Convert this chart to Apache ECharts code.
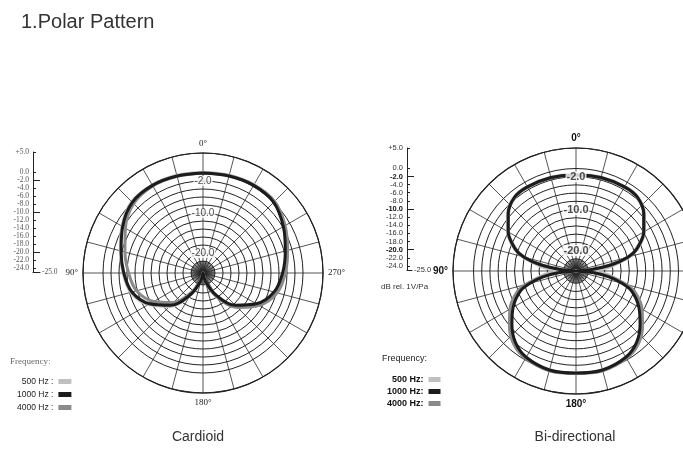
<!DOCTYPE html>
<html><head><meta charset="utf-8">
<script src="https://cdn.jsdelivr.net/npm/echarts@6/dist/echarts.min.js"></script>
<style>html,body{margin:0;padding:0;background:#fff}#c{width:683px;height:470px}</style>
</head><body><div id="c"></div>
<script>
// ---- data ----
const ringValues = [5,0,-2,-4,-6,-8,-10,-12,-14,-16,-18,-20,-22,-24];
const majorMarks = [-2,-10,-20];
const angleLabelValues = [0,90,180,270];
const frequencies = ['500 Hz','1000 Hz','4000 Hz'];

const cardioidAngles = [0,15,30,45,60,75,90,105,120,135,150,165,180,195,210,225,240,255,270,285,300,315,330,345,360];
const cardioid500  = [0.2,0.3,0.4,0.2,-1.6,-3.6,-5.0,-6.3,-9.2,-13.2,-18.6,-23,-25,-22.8,-18.4,-13,-8.9,-5.9,-4.5,-3.2,-1.4,0.3,0.5,0.3,0.2];
const cardioid1000 = [0,0.1,0.3,0,-1.8,-3.8,-5.2,-6.6,-9.6,-13.6,-18.8,-23,-25,-23,-18.8,-13.6,-9.6,-6.6,-5.1,-3.7,-1.8,0,0.3,0.1,0];
const cardioid4000 = [0,0,0.1,-0.5,-2.6,-4.8,-6.4,-7.8,-10.8,-14.6,-19.6,-23.4,-25,-22.6,-18.2,-12.8,-8.8,-5.8,-4.4,-3.1,-1.3,0.3,0.4,0.2,0];

const bidirAngles = [0,15,30,40,50,60,70,75,80,85,90,95,100,105,110,120,130,140,150,165,180,195,210,220,230,240,250,255,260,265,270,275,280,285,290,300,310,320,330,345,360];
const bidir500  = [-1.4,-1.3,-1.2,-1.5,-3.2,-5.7,-9,-11.5,-15,-18,-25,-18,-15.5,-12.8,-10.2,-7,-4.3,-1.9,-0.6,0,-0.1,0,-0.6,-1.9,-4.3,-7,-10.2,-12.8,-15.5,-18,-25,-18,-15,-11.5,-9,-5.7,-3.2,-1.5,-1.2,-1.3,-1.4];
const bidir1000 = [-1.5,-1.4,-1.3,-1.6,-3.4,-5.9,-9.2,-11.8,-16.2,-21.5,-25,-21,-17,-13.3,-10.5,-7.3,-4.6,-2.1,-0.7,0,-0.1,0,-0.7,-2.1,-4.6,-7.3,-10.5,-13.3,-17,-21,-25,-21.5,-16.2,-11.8,-9.2,-5.9,-3.4,-1.6,-1.3,-1.4,-1.5];
const bidir4000 = [-1.6,-1.5,-1.4,-1.7,-3.5,-6.0,-9.4,-12,-16.5,-21.5,-25,-20.5,-16.2,-12.4,-9.6,-6.4,-3.8,-1.5,-0.4,0.2,0,0.2,-0.4,-1.5,-3.8,-6.4,-9.6,-12.4,-16.2,-20.5,-25,-21.5,-16.5,-12,-9.4,-6,-3.5,-1.7,-1.4,-1.5,-1.6];

// ---- styles ----
const colors = {'500 Hz':'#c0c0c0','1000 Hz':'#1c1c1c','4000 Hz':'#8a8a8a'};
const SERIF = 'Liberation Serif';
const SANS = 'Liberation Sans';

const chart = echarts.init(document.getElementById('c'));

function mainAngleAxis(idx, labelStyle){
  return {polarIndex: idx, type:'value', min:0, max:360, interval:15, startAngle:90, clockwise:false,
    axisLine:{show:true, lineStyle:{color:'#222', width:1.2}},
    axisTick:{show:false},
    splitLine:{show:true, lineStyle:{color:'#2a2a2a', width:0.8}},
    axisLabel:Object.assign({show:true, margin:5, formatter: v => (angleLabelValues.includes(v) ? v + '°' : '')}, labelStyle)};
}
function innerAngleAxis(idx){
  return {polarIndex: idx, type:'value', min:0, max:360, interval:5, startAngle:90, clockwise:false,
    axisLine:{show:false}, axisTick:{show:false}, axisLabel:{show:false},
    splitLine:{show:true, lineStyle:{color:'#2a2a2a', width:0.7}}};
}
function mainRadiusAxis(idx){
  return {polarIndex: idx, type:'value', min:-25, max:5,
    axisLine:{show:false}, axisLabel:{show:false},
    axisTick:{show:false, customValues: ringValues},
    splitLine:{show:true, lineStyle:{color:'#222', width:1}}};
}
function innerRadiusAxis(idx){
  return {polarIndex: idx, type:'value', min:-25, max:-22,
    axisLine:{show:false}, axisLabel:{show:false}, axisTick:{show:false}, splitLine:{show:false}};
}
function curve(name, polarIndex, angles, vals){
  return {type:'line', name, coordinateSystem:'polar', polarIndex, smooth:0.35, symbol:'none',
    color: colors[name], lineStyle:{width:3, color: colors[name]},
    data: angles.map((a,i) => [vals[i], a]), z:3};
}
function marks(polarIndex, style){
  return {type:'scatter', coordinateSystem:'polar', polarIndex, symbolSize:0, silent:true,
    data: majorMarks.map(v => [v, 0]), z:5,
    label:Object.assign({show:true, position:'inside', formatter: p => p.value[0].toFixed(1),
      backgroundColor:'#fff', padding:[0,1]}, style)};
}

const scaleFmt = v => (v > 0 ? '+' : '') + v.toFixed(1);

const option = {
  animation:false,
  backgroundColor:'#fff',
  polar:[
    {center:[203,273], radius:120},
    {center:[203,273], radius:12},
    {center:[576,271], radius:123},
    {center:[576,271], radius:12.3}
  ],
  angleAxis:[
    mainAngleAxis(0, {fontFamily:SERIF, fontSize:9, color:'#222'}),
    innerAngleAxis(1),
    mainAngleAxis(2, {fontFamily:SANS, fontSize:10, fontWeight:'bold', color:'#111'}),
    innerAngleAxis(3)
  ],
  radiusAxis:[mainRadiusAxis(0), innerRadiusAxis(1), mainRadiusAxis(2), innerRadiusAxis(3)],
  grid:[
    {left:33, top:152, width:7, height:120},
    {left:407, top:148, width:5, height:122}
  ],
  xAxis:[
    {gridIndex:0, type:'value', min:0, max:1, position:'bottom', axisLine:{show:true, onZero:false, lineStyle:{color:'#222'}}, axisTick:{show:false}, axisLabel:{show:false}, splitLine:{show:false},
      name:'-25.0', nameLocation:'end', nameGap:2, nameTextStyle:{fontFamily:SERIF, fontSize:7.5, color:'#555'}},
    {gridIndex:1, type:'value', min:0, max:1, position:'bottom', axisLine:{show:true, onZero:false, lineStyle:{color:'#222'}}, axisTick:{show:false}, axisLabel:{show:false}, splitLine:{show:false},
      name:'-25.0', nameLocation:'end', nameGap:2, nameTextStyle:{fontFamily:SANS, fontSize:7.5, color:'#333'}}
  ],
  yAxis:[
    {gridIndex:0, type:'value', min:-25, max:5, position:'left',
      axisLine:{show:true, onZero:false, lineStyle:{color:'#222'}},
      axisTick:{show:true, inside:true, length:3, customValues: ringValues, lineStyle:{color:'#222'}},
      axisLabel:{customValues: ringValues, formatter: scaleFmt, margin:4, fontFamily:SERIF, fontSize:7.5, color:'#555'},
      splitLine:{show:false}},
    {gridIndex:0, type:'value', min:-25, max:5, position:'left',
      axisLine:{show:false}, axisLabel:{show:false}, splitLine:{show:false},
      axisTick:{show:true, inside:true, length:7, customValues: majorMarks, lineStyle:{color:'#222'}}},
    {gridIndex:1, type:'value', min:-25, max:5, position:'left',
      axisLine:{show:true, onZero:false, lineStyle:{color:'#222'}},
      axisTick:{show:true, inside:true, length:3, customValues: ringValues, lineStyle:{color:'#222'}},
      axisLabel:{customValues: ringValues, margin:4, fontFamily:SANS, fontSize:7.5, color:'#333',
        formatter: v => majorMarks.includes(v) ? '{b|' + scaleFmt(v) + '}' : scaleFmt(v),
        rich:{b:{fontWeight:'bold', fontFamily:SANS, fontSize:7.5, color:'#111'}}},
      splitLine:{show:false}},
    {gridIndex:1, type:'value', min:-25, max:5, position:'left',
      axisLine:{show:false}, axisLabel:{show:false}, splitLine:{show:false},
      axisTick:{show:true, inside:true, length:7, customValues: majorMarks, lineStyle:{color:'#222'}}}
  ],
  legend:[
    {data: frequencies, orient:'vertical', left:12, top:372, align:'right', icon:'rect',
      itemWidth:13, itemHeight:5, itemGap:4, selectedMode:false,
      formatter: n => n + ' :', textStyle:{fontFamily:SANS, fontSize:8.5, color:'#222'}},
    {data: frequencies, orient:'vertical', left:382, top:370, align:'right', icon:'rect',
      itemWidth:12, itemHeight:5, itemGap:3, selectedMode:false,
      formatter: n => n + ':', textStyle:{fontFamily:SANS, fontSize:9, fontWeight:'bold', color:'#111'}}
  ],
  graphic:[
    {type:'text', x:21, y:22, style:{text:'1.Polar Pattern', font:'20px "Liberation Sans"', fill:'#333', verticalAlign:'middle'}},
    {type:'text', x:198, y:437, style:{text:'Cardioid', font:'14px "Liberation Sans"', fill:'#333', align:'center', verticalAlign:'middle'}},
    {type:'text', x:575, y:437, style:{text:'Bi-directional', font:'14px "Liberation Sans"', fill:'#333', align:'center', verticalAlign:'middle'}},
    {type:'text', x:10, y:362, style:{text:'Frequency:', font:'9px "Liberation Serif"', fill:'#666', verticalAlign:'middle'}},
    {type:'text', x:382, y:359, style:{text:'Frequency:', font:'9px "Liberation Sans"', fill:'#222', verticalAlign:'middle'}},
    {type:'text', x:381, y:287, style:{text:'dB rel. 1V/Pa', font:'8px "Liberation Sans"', fill:'#333', verticalAlign:'middle'}}
  ],
  series:[
    curve('500 Hz', 0, cardioidAngles, cardioid500),
    curve('4000 Hz', 0, cardioidAngles, cardioid4000),
    curve('1000 Hz', 0, cardioidAngles, cardioid1000),
    marks(0, {fontFamily:SANS, fontSize:10, color:'#222'}),
    curve('500 Hz', 2, bidirAngles, bidir500),
    curve('4000 Hz', 2, bidirAngles, bidir4000),
    curve('1000 Hz', 2, bidirAngles, bidir1000),
    marks(2, {fontFamily:SANS, fontSize:11, fontWeight:'bold', color:'#222'})
  ]
};
chart.setOption(option);
</script></body></html>
